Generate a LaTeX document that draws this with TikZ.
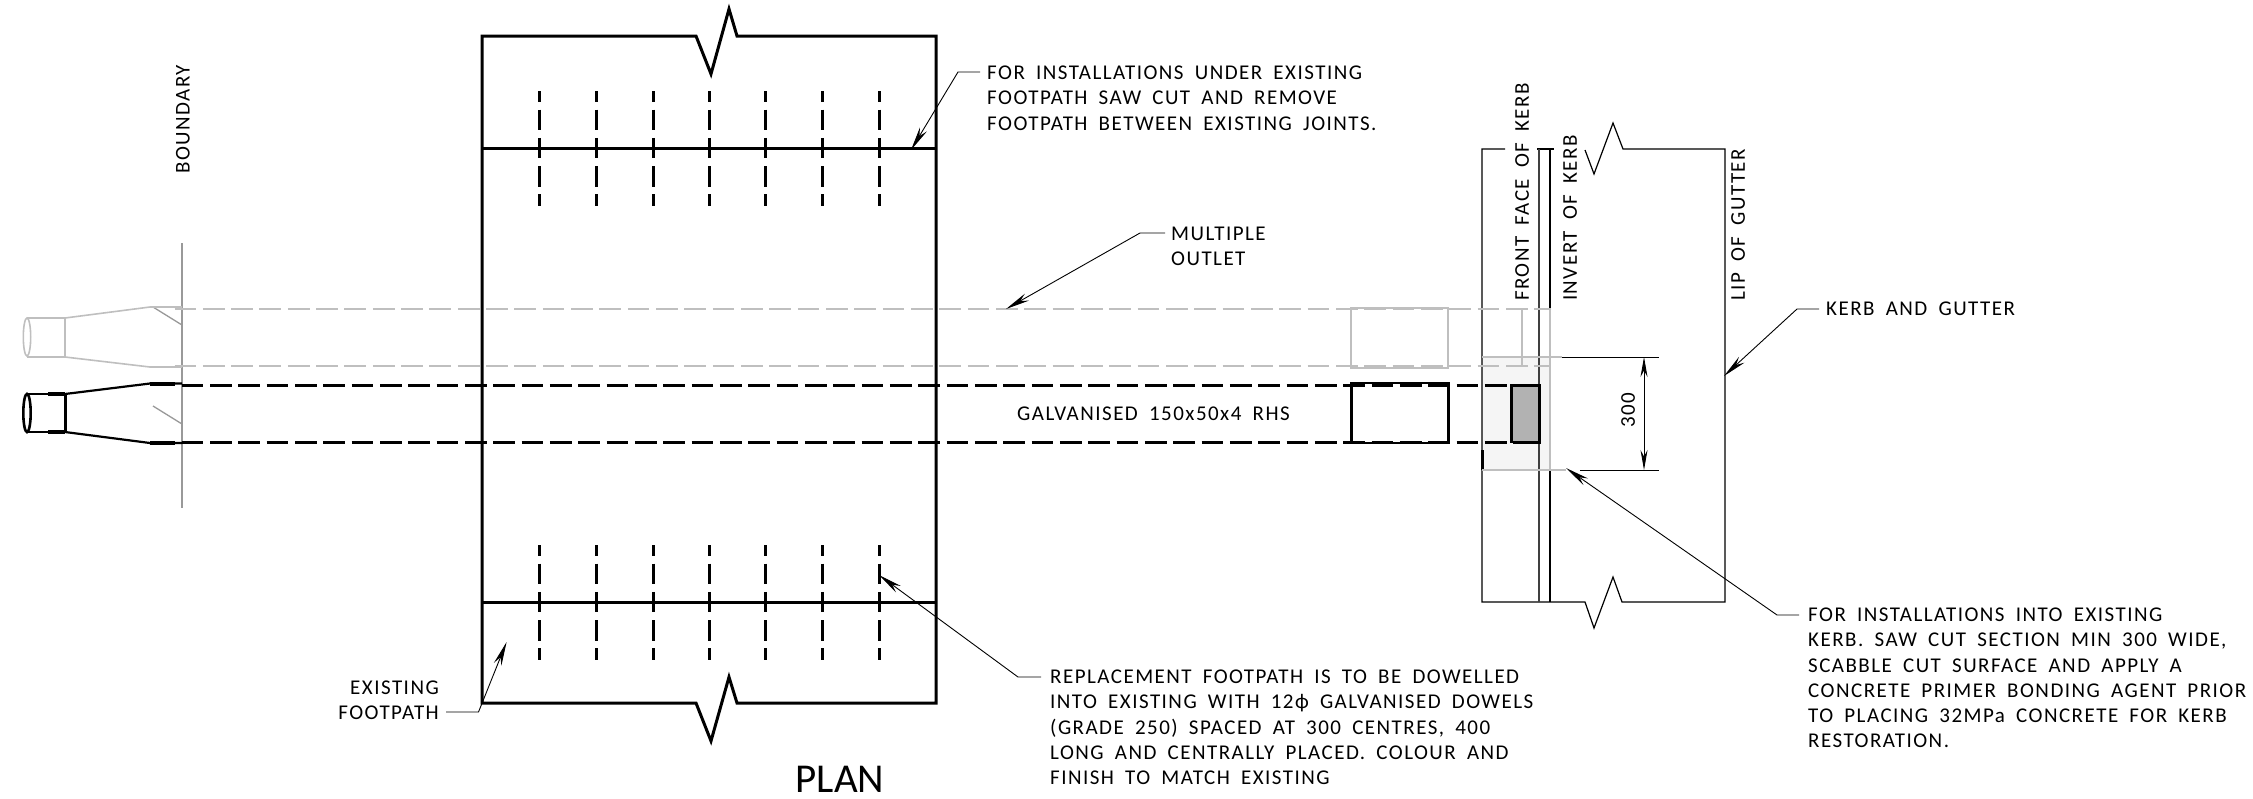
\documentclass[tikz,border=0pt]{standalone}
\usepackage{fontspec}
\setmainfont{Carlito}[WordSpace=1.8]
\usetikzlibrary{arrows.meta}
\tikzset{
  note/.style={inner sep=0pt,anchor=west,align=left,font=\fontsize{21}{25.3}\selectfont\addfontfeatures{LetterSpace=7}},
  side/.style={note,rotate=90},
  bold/.style={line width=3pt,black},
  thin/.style={line width=1.2pt,black},
  leader/.style={line width=0.9pt,black},
  tip/.style={-{Stealth[length=24pt,width=8pt]},leader},
  ghost/.style={line width=1.6pt,black!25},
  pipe/.style={line width=3pt,dash pattern=on 21.7pt off 6.63pt},
  dowel/.style={line width=3pt,black,dash pattern=on 20.5pt off 7.7pt,dash phase=9.5pt},
}
\begin{document}
\begin{tikzpicture}[x=1pt,y=-1pt]
    \useasboundingbox (0,0) rectangle (2253,798);
    % Kerb shading
    \fill[black!4] (1482,357) rectangle (1550,470);
    \fill[black!30] (1512,385) rectangle (1539,442);

    % Footpath
    \coordinate(FA) at (482,36);
    \coordinate(FB) at (936,36);
    \coordinate(FC) at (936,703);
    \coordinate(FD) at (482,703);
    \draw[bold] (FA) -- (696,36) -- (711,74) -- (729,9) -- (737,36) -- (FB) -- (FC) -- (737,703) -- (729,677) -- (711,741) -- (696,703) -- (FD) -- cycle;
    \draw[bold] (482,148) -- (936,148);
    \draw[bold] (482,602) -- (936,602);
    \foreach \x in {539,596,653,709,765,822,879} {
      \draw[dowel] (\x,91) -- (\x,206);
      \draw[dowel] (\x,545) -- (\x,660);
    }

    % Boundary
    \draw[line width=1.3pt,black!40] (182,243) -- (182,508);
    \draw[line width=1.3pt,black!40] (153,406) -- (182,424);
    \draw[line width=1.3pt,black!40] (153,307) -- (182,325);

    % Kerb
    \coordinate(KA) at (1482,149);
    \coordinate(KB) at (1725,149);
    \coordinate(KC) at (1725,602);
    \coordinate(KD) at (1482,602);
    \draw[thin] (1505,149) -- (KA) -- (KD) -- (1585,602) -- (1594,628) -- (1613,577) -- (1622,602) -- (KC) -- (KB) -- (1623,149) -- (1613,123) -- (1594,174) -- (1585,150);
    \draw[thin] (1537,149) -- (1554,149);
    \draw[thin,black!75] (1539,149) -- (1539,602);
    \draw[thin] (1550,149) -- (1550,602);
    \draw[line width=3pt] (1482,450) -- (1482,470);

    % Ghost outlet
    \draw[ghost] (27,337) ellipse (3.7 and 19);
    \draw[ghost] (27,318) -- (65,318) -- (65,357) -- (27,357);
    \draw[ghost,line width=2.6pt] (48,318) -- (65,318);
    \draw[ghost,line width=2.6pt] (48,357) -- (65,357);
    \draw[ghost] (65,318) -- (150,307) -- (182,307);
    \draw[ghost] (65,357) -- (150,367) -- (182,367);
    \draw[ghost,pipe,line width=1.8pt] (174.5,309) -- (1551,309);
    \draw[ghost,pipe,line width=1.8pt] (174.5,366) -- (1551,366);
    \draw[ghost] (1351,308) rectangle (1448,368);
    \draw[ghost] (1522,309) -- (1522,366);
    \draw[ghost,line width=2pt] (1550,309) -- (1550,470);
    \draw[ghost,line width=2pt] (1482,357) -- (1562,357);
    \draw[ghost,line width=2pt] (1482,470) -- (1566,470);

    % Black outlet
    \draw[line width=2.6pt] (27,413) ellipse (3.7 and 19);
    \draw[line width=1.8pt] (27,394) -- (48,394);
    \draw[line width=1.8pt] (27,432) -- (48,432);
    \draw[bold,line width=3.4pt] (48,394) -- (65,394);
    \draw[bold,line width=3.4pt] (48,432) -- (65,432);
    \draw[bold] (65,394) -- (65,432);
    \draw[line width=2.2pt] (65,394) -- (150,383.5) -- (182,383.5);
    \draw[line width=2.2pt] (65,432) -- (150,443) -- (182,443);
    \draw[line width=4pt] (150,384) -- (175,384);
    \draw[line width=4pt] (150,442.5) -- (175,442.5);
    \draw[pipe] (181.7,385) -- (1537,385);
    \draw[pipe] (181.7,442) -- (1537,442);
    \draw[bold] (1351,384) -- (1351,443);
    \draw[bold] (1448.5,384) -- (1448.5,443);
    \draw[line width=2pt] (1350,383.3) -- (1449.5,383.3);
    \draw[line width=2pt] (1350,443.3) -- (1449.5,443.3);
    \draw[line width=3pt] (1515,385) -- (1539,385) -- (1539,442) -- (1515,442);
    \draw[line width=3pt] (1511,384) -- (1511,443);

    % Dimension
    \coordinate(DA) at (1644,357);
    \coordinate(DB) at (1644,470);
    \draw[leader] (1562,357) -- (1659,357);
    \draw[leader] (1580,470) -- (1659,470);
    \draw[{Stealth[length=20pt,width=7pt]}-{Stealth[length=20pt,width=7pt]},leader] (DA) -- (DB);
    \node[side](N300) at (1628,428) {300};

    % Labels
    \node[side](LB) at (183,174) {BOUNDARY};
    \node[side](LF) at (1522,301) {FRONT FACE OF KERB};
    \node[side](LI) at (1570,301) {INVERT OF KERB};
    \node[side](LL) at (1738,301) {LIP OF GUTTER};
    \node[note](LG) at (1017,414) {GALVANISED 150x50x4 RHS};
    \node[note,anchor=east,align=right,font=\fontsize{21}{24.5}\selectfont\addfontfeatures{LetterSpace=7}](LE) at (439,700) {EXISTING\\FOOTPATH};
    \node[inner sep=0pt,font=\fontsize{41}{41}\selectfont\addfontfeatures{LetterSpace=0}](LP) at (840,779) {PLAN};

    % Notes
    \node[note](N1) at (987,98) {FOR INSTALLATIONS UNDER EXISTING\\FOOTPATH SAW CUT AND REMOVE\\FOOTPATH BETWEEN EXISTING JOINTS.};
    \node[note](N2) at (1171,246) {MULTIPLE\\OUTLET};
    \node[note](N3) at (1826,309) {KERB AND GUTTER};
    \node[note](N4) at (1050,727.5) {REPLACEMENT FOOTPATH IS TO BE DOWELLED\\INTO EXISTING WITH 12ϕ GALVANISED DOWELS\\(GRADE 250) SPACED AT 300 CENTRES, 400\\LONG AND CENTRALLY PLACED. COLOUR AND\\FINISH TO MATCH EXISTING};
    \node[note](N5) at (1808,678) {FOR INSTALLATIONS INTO EXISTING\\KERB. SAW CUT SECTION MIN 300 WIDE,\\SCABBLE CUT SURFACE AND APPLY A\\CONCRETE PRIMER BONDING AGENT PRIOR\\TO PLACING 32MPa CONCRETE FOR KERB\\RESTORATION.};

    % Leaders
    \coordinate(P1) at (911,150);
    \coordinate(P2) at (1006,309);
    \coordinate(P3) at (1724,376);
    \coordinate(P4) at (879,575);
    \coordinate(P5) at (1566,468);
    \coordinate(P6) at (506.6,642);
    \draw[tip] (980,72) -- (958,72) -- (P1);
    \draw[tip] (1165,233) -- (1140,233) -- (P2);
    \draw[tip] (1819,309) -- (1797,309) -- (P3);
    \draw[tip] (1041,677) -- (1018,677) -- (P4);
    \draw[tip] (1799,615) -- (1777,615) -- (P5);
    \draw[tip] (446,712) -- (478.5,712) -- (P6);
  \end{tikzpicture}
\end{document}
